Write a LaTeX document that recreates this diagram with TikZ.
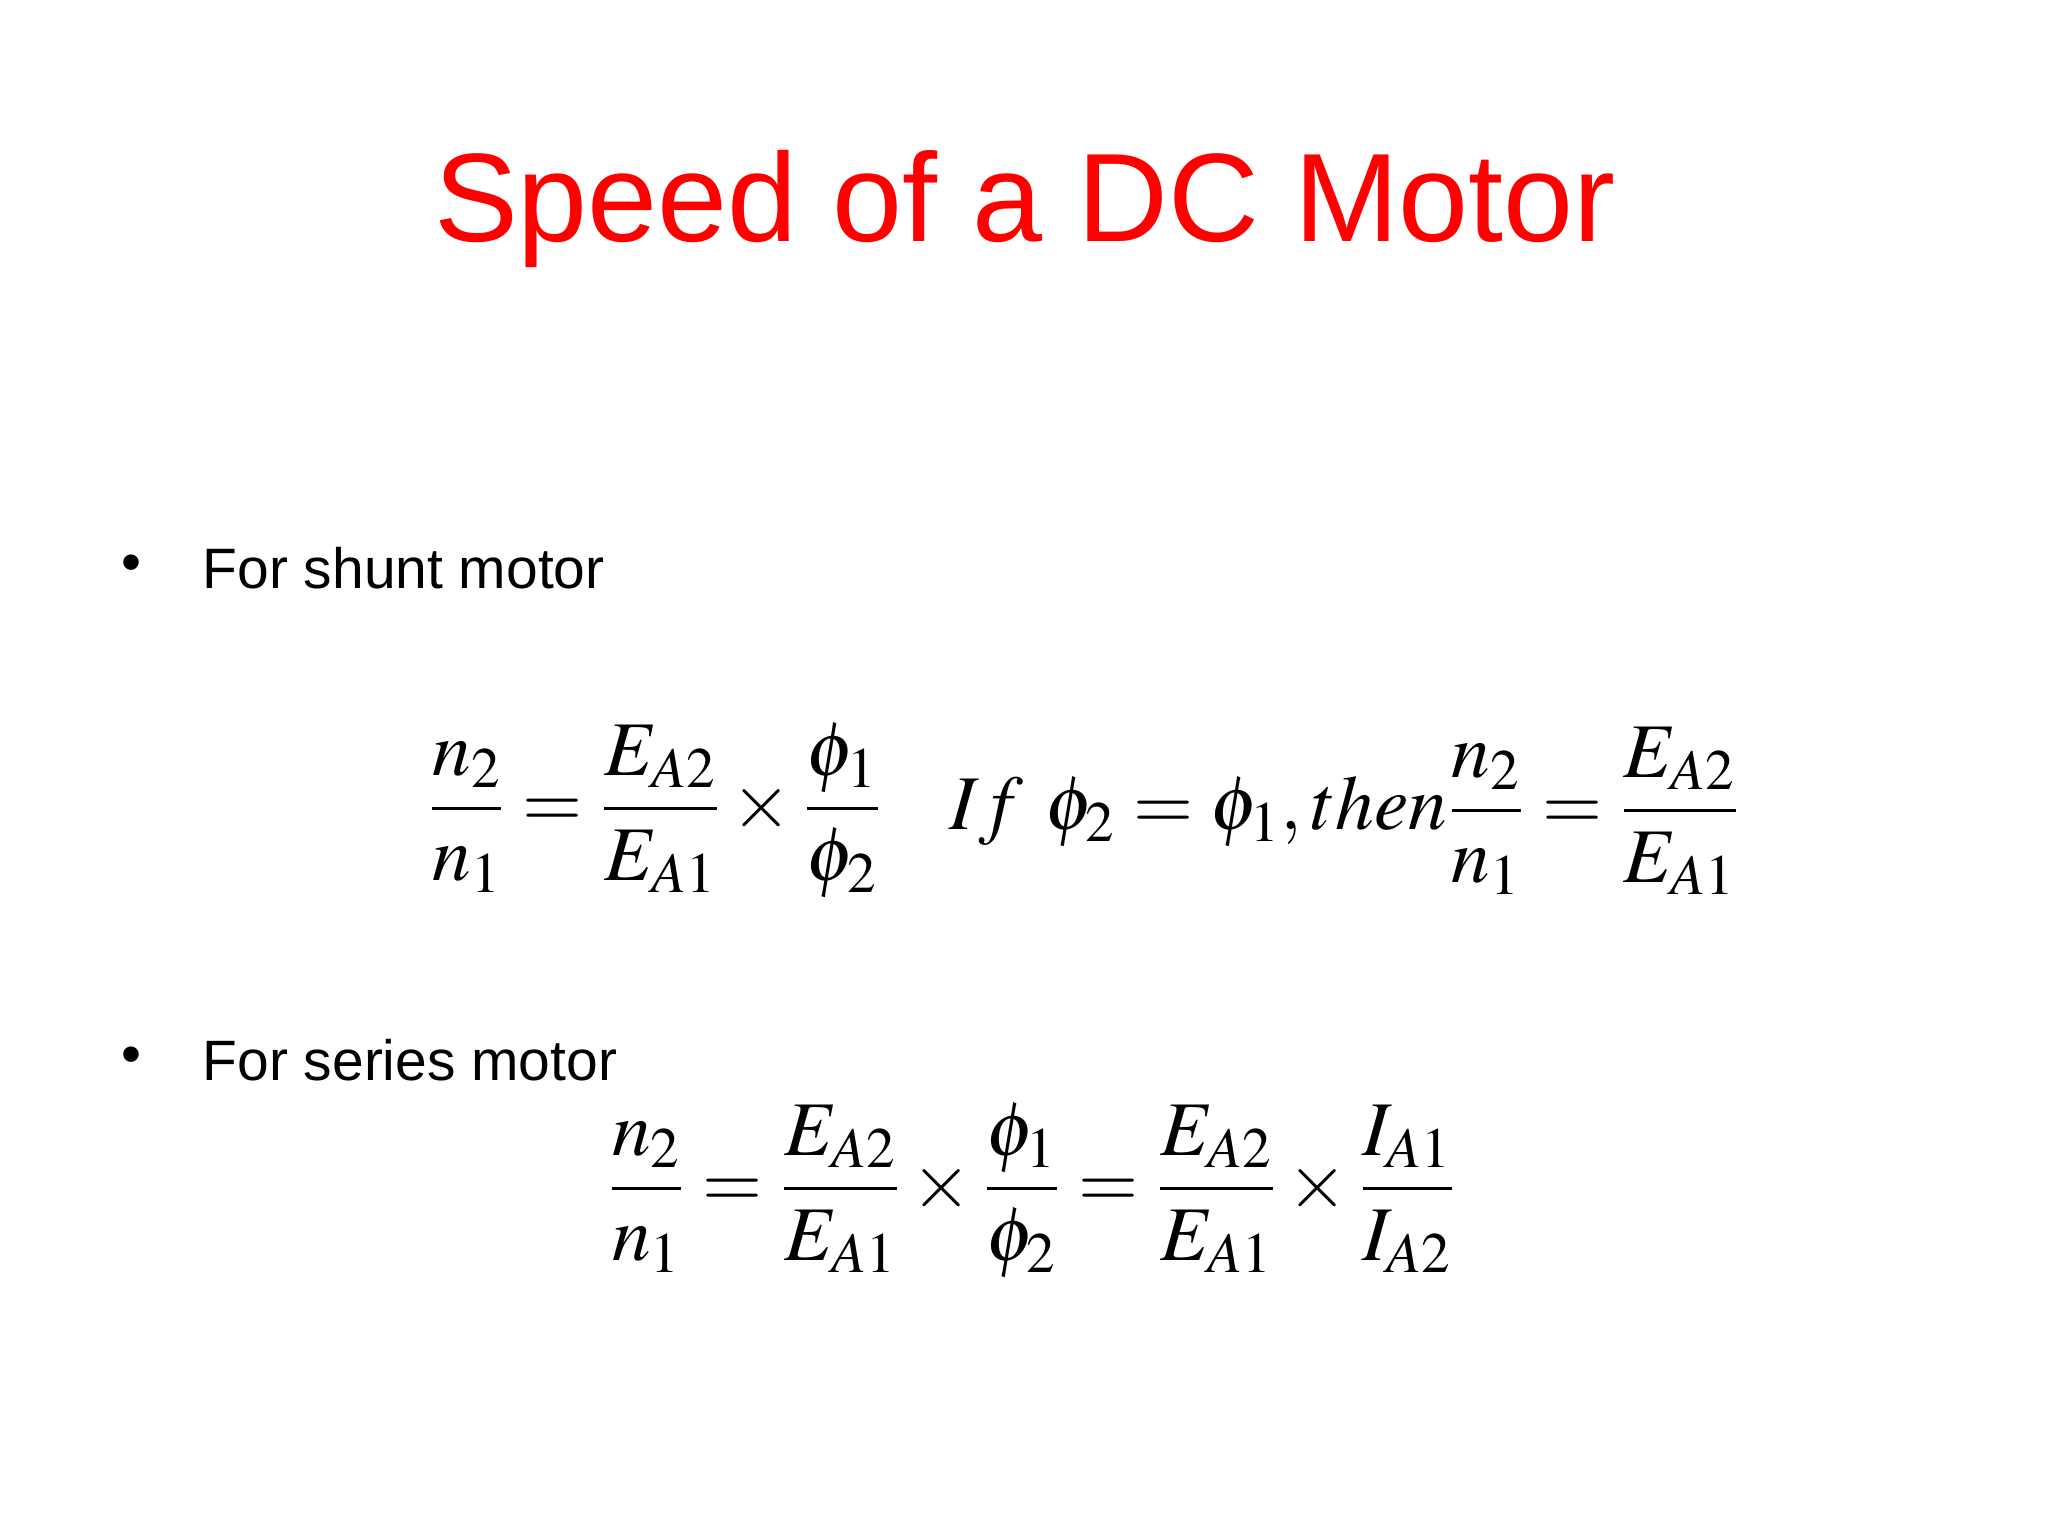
\documentclass[tikz,border=0pt]{standalone}
\usepackage{mathptmx}
\usepackage{fontspec}
\setmainfont{Liberation Sans}
\begin{document}
\begin{tikzpicture}[x=1cm,y=1cm,
  eq/.style={inner sep=0pt,font=\fontsize{22}{26}\selectfont},
  txt/.style={inner sep=0pt,font=\fontsize{16.2}{20}\selectfont}]
\useasboundingbox[fill=white] (0,0) rectangle (20.48,15.36);
\node[inner sep=0pt,text=red,font=\fontsize{35.8}{42}\selectfont] (title) at (10.25,13.27) {Speed of a DC Motor};
\node[txt,anchor=center] (b1) at (1.31,9.68) {•};
\node[txt,anchor=west] (t1) at (2.02,9.68) {For shunt motor};
\node[eq] (e1) at (6.55,7.25) {$\displaystyle \frac{n_2}{n_1}=\frac{E_{A2}}{E_{A1}}\times\frac{\phi_1}{\phi_2}$};
\node[eq] (e2) at (13.45,7.25) {$\displaystyle If\ \phi_2=\phi_1, then\frac{n_2}{n_1}=\frac{E_{A2}}{E_{A1}}$};
\node[txt,anchor=center] (b2) at (1.31,4.76) {•};
\node[txt,anchor=west] (t2) at (2.02,4.76) {For series motor};
\node[eq] (e3) at (10.32,3.45) {$\displaystyle \frac{n_2}{n_1}=\frac{E_{A2}}{E_{A1}}\times\frac{\phi_1}{\phi_2}=\frac{E_{A2}}{E_{A1}}\times\frac{I_{A1}}{I_{A2}}$};
\end{tikzpicture}
\end{document}
